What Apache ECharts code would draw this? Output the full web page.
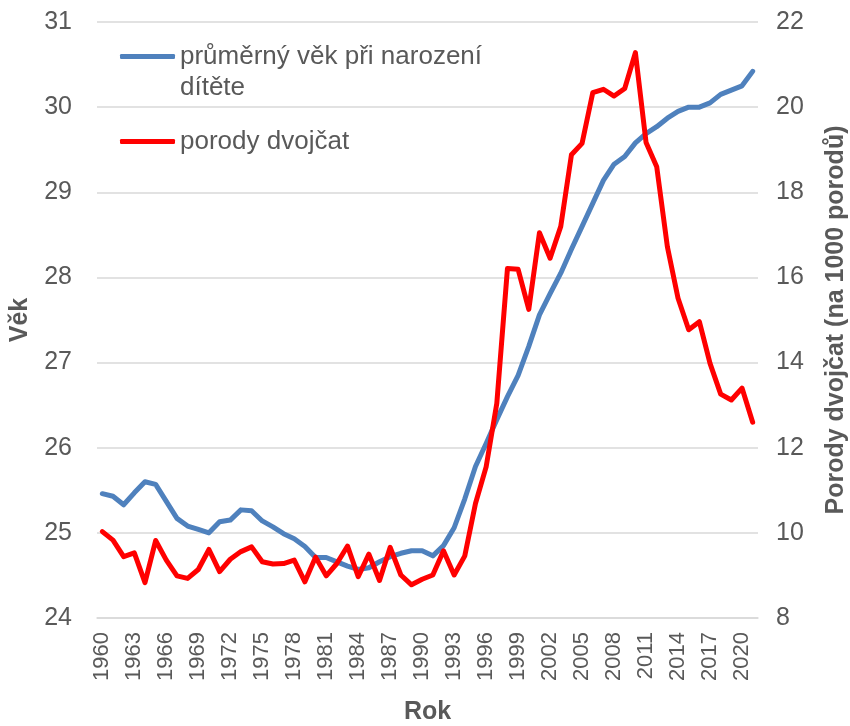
<!DOCTYPE html>
<html>
<head>
<meta charset="utf-8">
<script src="https://cdn.jsdelivr.net/npm/echarts@6/dist/echarts.min.js"></script>
<style>
  html, body { margin: 0; padding: 0; background: #fff; }
  #chart { width: 850px; height: 726px; }
</style>
</head>
<body>
<div id="chart"></div>
<script>
// roky 1960-2021
var years = []
for (var y = 1960; y <= 2021; y++) years.push(String(y))

// průměrný věk matky při narození dítěte
var ageValues = [
  25.46, 25.43, 25.33, 25.47, 25.60, 25.57, 25.37, 25.17, 25.08, 25.04,
  25.00, 25.13, 25.15, 25.27, 25.26, 25.14, 25.07, 24.99, 24.93, 24.84,
  24.71, 24.71, 24.66, 24.61, 24.57, 24.59, 24.66, 24.72, 24.76, 24.79,
  24.79, 24.73, 24.85, 25.06, 25.40, 25.78, 26.05, 26.33, 26.60, 26.85,
  27.19, 27.56, 27.81, 28.05, 28.33, 28.60, 28.87, 29.14, 29.33, 29.42,
  29.58, 29.69, 29.77, 29.87, 29.95, 30.00, 30.00, 30.05, 30.15, 30.20,
  30.25, 30.42
]

// porody dvojčat na 1000 porodů
var twinValues = [
  10.03, 9.83, 9.44, 9.53, 8.83, 9.82, 9.36, 8.99, 8.93, 9.14,
  9.61, 9.09, 9.38, 9.56, 9.67, 9.32, 9.27, 9.28, 9.36, 8.85,
  9.43, 8.99, 9.28, 9.69, 8.97, 9.50, 8.88, 9.66, 9.01, 8.78,
  8.91, 9.01, 9.58, 9.01, 9.46, 10.69, 11.55, 13.04, 16.21, 16.19,
  15.25, 17.05, 16.45, 17.20, 18.88, 19.15, 20.34, 20.42, 20.26, 20.44,
  21.28, 19.17, 18.60, 16.72, 15.51, 14.77, 14.96, 13.98, 13.26, 13.12,
  13.40, 12.60
]

var txtColor = '#595959'
var gridColor = '#d9d9d9'
var font = 'Liberation Sans, Arial, sans-serif'

var myChart = echarts.init(document.getElementById('chart'))
var option = {
  animation: false,
  textStyle: { fontFamily: font },
  grid: {
    left: 97,
    right: 92,
    top: 22,
    bottom: 108,
    containLabel: false,
    outerBoundsMode: 'none'
  },
  legend: {
    orient: 'vertical',
    left: 115,
    top: 5,
    icon: 'roundRect',
    itemWidth: 55,
    itemHeight: 5,
    itemGap: 23,
    selectedMode: false,
    data: ['průměrný věk při narození\ndítěte', 'porody dvojčat'],
    // prázdný první řádek -> ikona sedí na úrovni prvního řádku textu
    formatter: function (name) {
      return name.indexOf('\n') >= 0 ? ' \n' + name : name
    },
    textStyle: {
      color: txtColor,
      fontSize: 26,
      lineHeight: 31,
      fontFamily: font
    }
  },
  xAxis: {
    type: 'category',
    data: years,
    name: 'Rok',
    nameLocation: 'middle',
    nameGap: 82,
    nameTextStyle: { color: txtColor, fontSize: 25, fontWeight: 'bold' },
    axisLine: { lineStyle: { color: gridColor, width: 1.5 } },
    axisTick: { show: false },
    axisLabel: {
      interval: 2,
      rotate: 90,
      margin: 14,
      color: txtColor,
      fontSize: 22
    }
  },
  yAxis: [
    {
      type: 'value',
      min: 24,
      max: 31,
      interval: 1,
      name: 'Věk',
      nameLocation: 'middle',
      nameGap: 64,
      nameTextStyle: { color: txtColor, fontSize: 25, fontWeight: 'bold' },
      axisLine: { show: false },
      axisTick: { show: false },
      axisLabel: { color: txtColor, fontSize: 25, margin: 25 },
      splitLine: { lineStyle: { color: gridColor, width: 1.5 } }
    },
    {
      type: 'value',
      min: 8,
      max: 22,
      interval: 2,
      name: 'Porody dvojčat (na 1000 porodů)',
      nameLocation: 'middle',
      nameGap: 66,
      nameTextStyle: { color: txtColor, fontSize: 25, fontWeight: 'bold' },
      axisLine: { show: false },
      axisTick: { show: false },
      axisLabel: { color: txtColor, fontSize: 25, margin: 18 },
      splitLine: { show: false }
    }
  ],
  series: [
    {
      name: 'průměrný věk při narození\ndítěte',
      type: 'line',
      yAxisIndex: 0,
      data: ageValues,
      showSymbol: false,
      itemStyle: { color: '#4f81bd' },
      lineStyle: { color: '#4f81bd', width: 5, cap: 'round', join: 'round' }
    },
    {
      name: 'porody dvojčat',
      type: 'line',
      yAxisIndex: 1,
      data: twinValues,
      showSymbol: false,
      itemStyle: { color: '#ff0000' },
      lineStyle: { color: '#ff0000', width: 5, cap: 'round', join: 'round' }
    }
  ]
}
myChart.setOption(option)
</script>
</body>
</html>
